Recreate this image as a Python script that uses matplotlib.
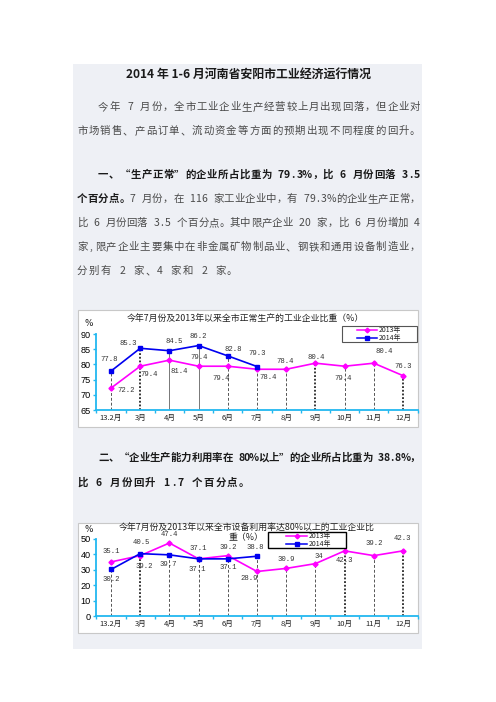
import numpy as np
import matplotlib.pyplot as plt
from matplotlib.patches import Rectangle

# Data
months = ['13.2月', '3月', '4月', '5月', '6月', '7月', '8月', '9月', '10月', '11月', '12月']

normal_2013 = [72.2, 79.4, 81.4, 79.4, 79.4, 78.4, 78.4, 80.4, 79.4, 80.4, 76.3]
normal_2014 = [77.8, 85.3, 84.5, 86.2, 82.8, 79.3]

util_2013 = [35.1, 39.2, 47.4, 37.1, 39.2, 28.9, 30.9, 34, 42.3, 39.2, 42.3]
util_2014 = [30.2, 40.5, 39.7, 37.1, 37.1, 38.8]

series_names = ['2013年', '2014年']

# label offsets in pixels (dx, dy; dy down) -- layout only
off1_13 = [(15, 2), (9, 8), (10, 11), (1, -9), (-7, 12), (11, 8), (-1, -8), (1, -6), (-1, 12), (10, -12), (0, -9)]
off1_14 = [(-2, -12), (-12, -5), (5, -9), (0, -9), (5, -6), (0, -13)]
off2_13 = [(0, -10), (4, 11), (0, -9), (0, -10), (0, -8), (-8, 7), (0, -9), (3, -7), (0, 10), (0, -12), (-1, -12)]
off2_14 = [(0, 10), (1, -11), (-1, 10), (-1, 11), (0, 9), (-2, -9)]

# drop line styles per month
drop1 = ['dash', 'dot', 'solid', 'solid', 'dash', 'dash', 'dash', 'dot', 'dash', 'dash', 'dot']
drop2 = ['dash', 'dot', 'dash', 'dash', 'dash', 'dash', 'dash', 'dash', 'dot', 'dash', 'dot']

CJK = 'Noto Sans CJK SC'
W, H = 496, 702
MAG = '#FF00FF'
BLUE = '#0000F0'
AXC = '#22B8F0'

fig = plt.figure(figsize=(W / 100, H / 100), dpi=100)
fig.patch.set_facecolor('white')

page = fig.add_axes([0, 0, 1, 1])
page.set_xlim(0, W)
page.set_ylim(H, 0)
page.axis('off')

page.add_patch(Rectangle((73, 64), 349, 585, fc='#EEF0F5', ec='none'))
page.add_patch(Rectangle((78, 310), 340, 117, fc='white', ec='#C8C8C8', lw=0.8))
page.add_patch(Rectangle((78, 523), 340, 110, fc='white', ec='#C8C8C8', lw=0.8))


def cw(c):
    if c == '%':
        return 0.85
    return 0.55 if ord(c) < 0x2000 else 1.0


def draw_line(segs, x0, y, size, x1=None, gap=1.2):
    chars = []
    for text, weight, color in segs:
        for c in text:
            chars.append((c, weight, color))
    em = size * 100 / 72
    widths = [cw(c) * em for c, _, _ in chars]
    if x1 is not None:
        gap = (x1 - x0 - sum(widths)) / (len(chars) - 1)
    x = x0
    for (c, weight, color), w in zip(chars, widths):
        if c != ' ':
            page.text(x + w / 2, y, c, ha='center', va='center', fontsize=size,
                      family=[CJK, 'DejaVu Sans'], weight=weight, color=color)
        x += w + gap


BODY = '#4a4a4a'
HEAD = '#1a1a1a'
fs = 7.5

page.text(248, 74, '2014 年 1-6 月河南省安阳市工业经济运行情况', ha='center', va='center',
          fontsize=8.6, family=[CJK, 'DejaVu Sans'], weight='bold', color=HEAD)

draw_line([('今年 7 月份，全市工业企业生产经营较上月出现回落，但企业对', 'normal', BODY)], 98, 107, fs, 420)
draw_line([('市场销售、产品订单、流动资金等方面的预期出现不同程度的回升。', 'normal', BODY)], 77, 131, fs, 420)
draw_line([('一、“生产正常”的企业所占比重为 79.3%，比 6 月份回落 3.5', 'bold', HEAD)], 98, 175, fs, 420)
draw_line([('个百分点。', 'bold', HEAD),
           ('7 月份，在 116 家工业企业中，有 79.3%的企业生产正常，', 'normal', BODY)], 77, 199, fs, 420)
draw_line([('比 6 月份回落 3.5 个百分点。其中限产企业 20 家，比 6 月份增加 4', 'normal', BODY)], 77, 223, fs, 420)
draw_line([('家,限产企业主要集中在非金属矿物制品业、钢铁和通用设备制造业，', 'normal', BODY)], 77, 247, fs, 420)
draw_line([('分别有 2 家、4 家和 2 家。', 'normal', BODY)], 77, 271, fs, gap=1.3)
draw_line([('二、“企业生产能力利用率在 80%以上”的企业所占比重为 38.8%，', 'bold', HEAD)], 98, 458, fs, 420)
draw_line([('比 6 月份回升 1.7 个百分点。', 'bold', HEAD)], 77, 483, fs, gap=1.3)


def px_axes(x0, y0, x1, y1):
    return fig.add_axes([x0 / W, 1 - y1 / H, (x1 - x0) / W, (y1 - y0) / H])


drop_style = {'dash': dict(color='#555555', ls=(0, (3, 2)), lw=0.7),
              'dot': dict(color='black', ls=(0, (1.2, 1.2)), lw=1.1),
              'solid': dict(color='#777777', ls='-', lw=0.7)}


def make_chart(box, ylim, yticks, s13, s14, o13, o14, drops):
    ax = px_axes(*box)
    ax.set_facecolor('none')
    x = np.arange(len(months))
    ax.set_xlim(-0.5, len(months) - 0.5)
    ax.set_ylim(*ylim)
    for i, st in enumerate(drops):
        top = s14[i] if i < len(s14) else s13[i]
        ax.vlines(i, ylim[0], top, zorder=1, **drop_style[st])
    ax.plot(x, s13, color=MAG, lw=1.2, marker='D', ms=2.6, zorder=3)
    ax.plot(x[:len(s14)], s14, color=BLUE, lw=1.2, marker='s', ms=3.4, zorder=4)
    for vals, offs in ((s13, o13), (s14, o14)):
        for i, v in enumerate(vals):
            dx, dy = offs[i]
            ax.annotate(f'{v:g}', (i, v), xytext=(dx * 0.72, -dy * 0.72), textcoords='offset points',
                        ha='center', va='center', fontsize=5.2, family='Liberation Mono',
                        color='#333333', zorder=5)
    for side in ('top', 'right'):
        ax.spines[side].set_visible(False)
    for side in ('left', 'bottom'):
        ax.spines[side].set_color(AXC)
        ax.spines[side].set_linewidth(1.3)
    ax.set_yticks(yticks)
    ax.set_yticklabels([str(t) for t in yticks], fontsize=6.6, family='Liberation Sans')
    ax.set_xticks(x)
    ax.set_xticklabels(months, fontsize=5.5, family=CJK)
    ax.set_xticks(np.arange(-0.5, len(months)), minor=True)
    ax.tick_params(axis='y', colors=AXC, labelcolor='black', length=2.5, width=1, pad=1.5)
    ax.tick_params(axis='x', which='major', length=0, pad=3, labelcolor='#222222')
    ax.tick_params(axis='x', which='minor', colors=AXC, length=2.5, width=1)
    return ax


ax1 = make_chart((96.4, 334, 417.6, 410), (65, 90), [65, 70, 75, 80, 85, 90],
                 normal_2013, normal_2014, off1_13, off1_14, drop1)
ax2 = make_chart((96.4, 539, 417.6, 616), (0, 50), [0, 10, 20, 30, 40, 50],
                 util_2013, util_2014, off2_13, off2_14, drop2)

# chart titles and unit labels
tprops = dict(ha='center', va='center', fontsize=6.4, family=[CJK, 'DejaVu Sans'], color='#222222')
page.text(245, 318, '今年7月份及2013年以来全市正常生产的工业企业比重（%）', **tprops)
page.text(247, 527, '今年7月份及2013年以来全市设备利用率达80%以上的工业企业比', **tprops)
page.text(246, 538, '重（%）', **tprops)
page.text(89, 324, '%', ha='center', va='center', fontsize=6.4, color='#222222')
page.text(89, 529, '%', ha='center', va='center', fontsize=6.4, color='#222222')

# legends drawn as boxes on the page layer
over = fig.add_axes([0, 0, 1, 1])
over.set_xlim(0, W)
over.set_ylim(H, 0)
over.axis('off')


def legend_box(x0, y0, x1, y1, lx0, lx1, ec, lw):
    over.add_patch(Rectangle((x0, y0), x1 - x0, y1 - y0, fc='white', ec=ec, lw=lw))
    rows = [(MAG, 'D', 2.4), (BLUE, 's', 3.0)]
    ys = [y0 + (y1 - y0) * 0.27, y0 + (y1 - y0) * 0.73]
    for (col, mk, ms), yy, name in zip(rows, ys, series_names):
        over.plot([lx0, lx1], [yy, yy], color=col, lw=1.1)
        over.plot([(lx0 + lx1) / 2], [yy], color=col, marker=mk, ms=ms)
        over.text(lx1 + 1.5, yy, name, ha='left', va='center', fontsize=5, family=CJK, color='#222222')


legend_box(342, 326, 417, 342, 357, 377, '#555555', 0.8)
legend_box(268, 532, 346, 548, 286, 307, 'black', 1.0)

fig.savefig('out.png', dpi=100)
